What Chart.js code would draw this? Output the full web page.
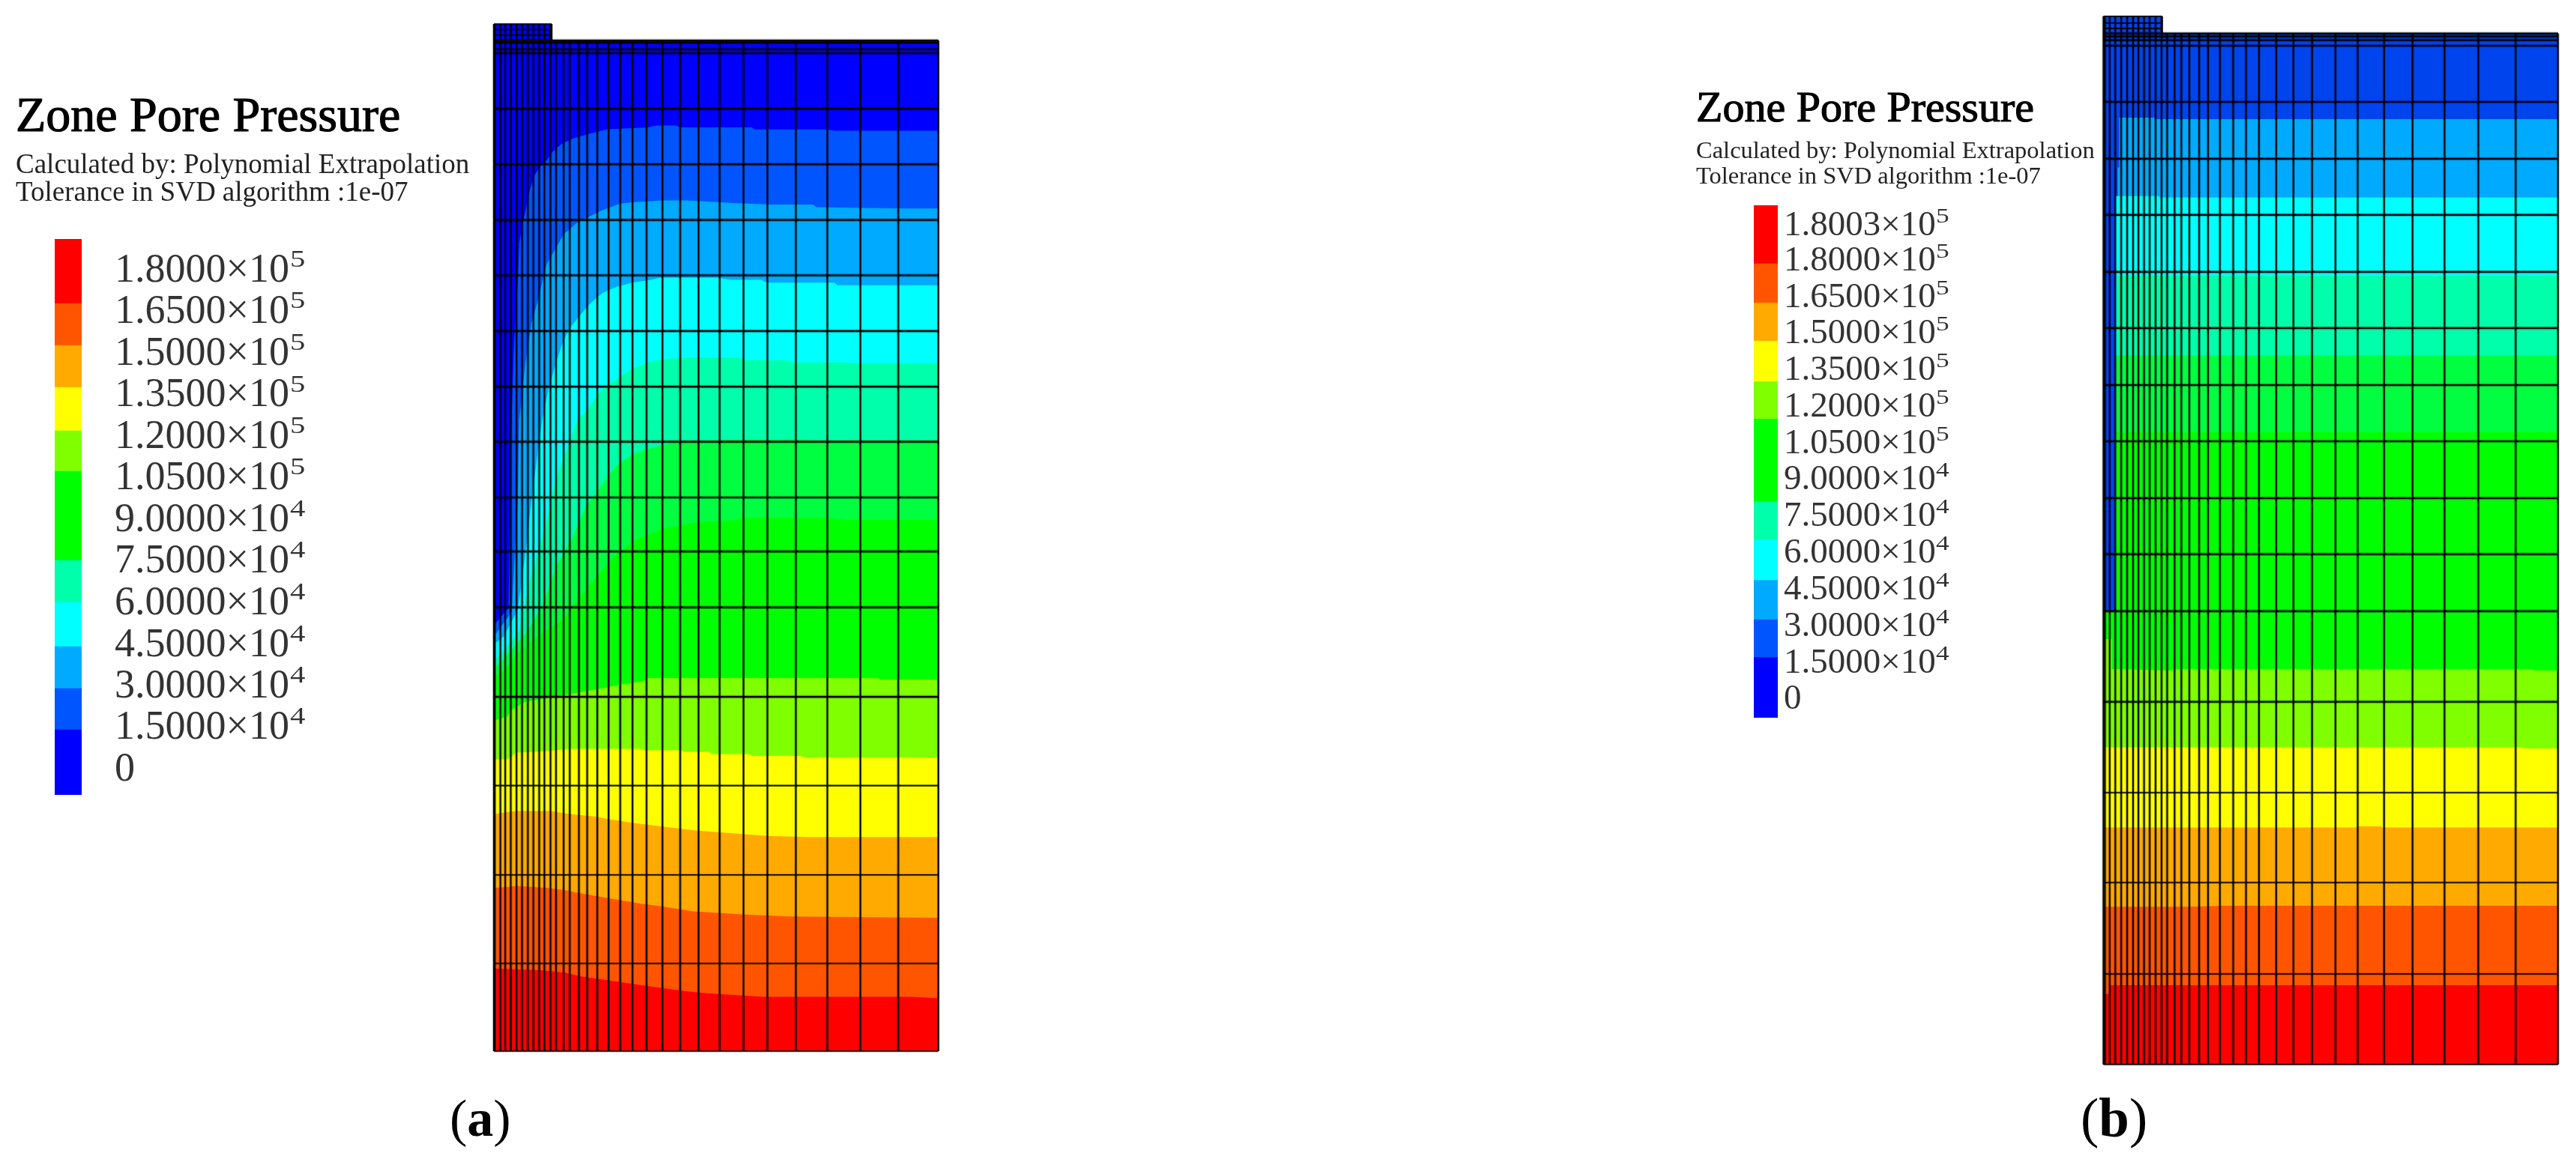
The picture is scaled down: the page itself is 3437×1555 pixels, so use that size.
<!DOCTYPE html>
<html>
<head>
<meta charset="utf-8">
<script src="https://cdn.jsdelivr.net/npm/chart.js@4"></script>
<style>
html,body{margin:0;padding:0;background:#fff;width:3437px;height:1555px;overflow:hidden}
canvas{position:absolute;display:block}
.t{position:absolute;white-space:nowrap;line-height:1;font-family:"Liberation Serif",serif;color:#222}
.t sup{font-size:.58em;line-height:0;vertical-align:baseline;position:relative;top:-.62em;display:inline-block;transform:scaleX(1.3);transform-origin:left center;margin-left:.02em}
</style>
</head>
<body>
<script>
// ---------- shared data ----------
const titleText = 'Zone Pore Pressure';
const subText1 = 'Calculated by: Polynomial Extrapolation';
const subText2 = 'Tolerance in SVD algorithm :1e-07';
const legendColors = ['#0000ff','#0055ff','#00aaff','#00ffff','#00ffaa','#00ff00','#7fff00','#ffff00','#ffaa00','#ff5500','#ff0000'];
const bandColorsA = ['#0000ff','#0055ff','#00aaff','#00ffff','#00ffaa','#00ff40','#00ff00','#7fff00','#ffff00','#ffaa00','#ff5500','#ff0000'];
const bandColorsB = ['#0044ee','#00aaff','#00ffff','#00ffaa','#00ff40','#00ff00','#7fff00','#ffff00','#ffaa00','#ff5500','#ff0000'];

// ---------- panel (a) ----------
const levelsA = [180000,165000,150000,135000,120000,105000,90000,75000,60000,45000,30000,15000,0];
const legendEdgesA = [0,11.73,19.14,26.68,34.64,42.18,58.22,65.5,73.32,80.86,88.41,100];
const meshXA = [0,0.2,1.45,2.55,3.79,5.09,6.33,7.64,8.88,10.19,11.36,12.73,13.97,15.69,17.07,19.13,20.99,23.26,25.81,28.42,31.18,34.34,37.92,41.91,46.04,50.79,56.16,61.53,67.93,75.02,82.45,90.98,100];
const meshYA = [0,8.67,17.44,26.27,35.06,43.91,49.44,54.78,60.3,65.75,71.24,76.76,82.24,87.75,93.25,98.74,99.13,99.78,100];
const notchYA = [100.53,101.07,101.63];
const topA = 101.63, notchRightA = 13;
const shapeA = [[0,101.63],[13,101.63],[13,100],[100,100]];
const A15k = [[0,42.1],[0.9,42.63],[3.3,43.82],[3.65,54.55],[3.99,62.49],[4.47,69.42],[5.37,76.04],[5.71,80],[6.74,82.4],[8.12,85.31],[9.15,86.63],[10.19,87.43],[11.56,87.96],[13.28,89.02],[15.35,89.81],[18.1,90.34],[22.23,90.87],[25.67,91.21],[34.62,91.4],[36.68,91.59],[40.81,91.59],[42.19,91.4],[58.02,91.4],[58.71,91.19],[74.54,91.19],[76.6,91.06],[100,91.06]];
const A30k = [[0,41.04],[1.58,41.97],[3.99,43.43],[5.37,54.55],[5.71,62.49],[7.09,68.1],[8.47,72.07],[10.19,74.72],[11.22,76.84],[11.91,77.9],[13.97,79.49],[15.69,80.81],[18.79,82],[21.2,82.53],[24.29,83.19],[28.42,83.85],[31.18,83.99],[38.06,84.17],[43.56,84.17],[53.89,83.91],[62.15,83.77],[71.78,83.77],[72.47,83.51],[91.05,83.38],[100,83.38]];
const A45k = [[0,40.25],[2.27,41.04],[5.37,43.69],[7.09,49.25],[8.47,54.55],[10.87,62.49],[12.25,65.45],[13.97,68.1],[15.35,69.95],[17.07,71.54],[19.48,72.87],[21.54,73.93],[24.29,74.98],[27.74,75.65],[31.18,76.04],[35.31,76.31],[37.37,76.52],[50.45,76.52],[53.2,76.31],[60.08,76.31],[61.46,76.04],[76.6,76.04],[77.29,75.78],[100,75.78]];
const A60k = [[0,38.66],[1.93,39.46],[5.71,41.57],[8.12,46.6],[11.56,51.9],[14.32,57.19],[16.72,59.84],[18.79,62.49],[20.85,63.34],[24.29,65.45],[27.74,66.51],[31.18,67.57],[35.31,68.23],[38.75,68.5],[44.94,68.63],[55.26,68.63],[56.64,68.37],[65.59,68.37],[66.96,68.15],[77.29,68.15],[82.79,68.05],[100,68.05]];
const A75k = [[0,37.87],[1.93,38.66],[7.09,41.31],[10.87,43.96],[13.97,47.93],[17.41,50.58],[20.85,54.02],[23.26,55.34],[25.67,56.93],[27.74,57.99],[31.18,59.05],[34.62,59.58],[38.06,59.97],[40.12,60.24],[53.89,60.5],[70.41,60.5],[71.09,60.42],[100,60.42]];
const A90k = [[0,37.07],[1.58,37.34],[5.02,39.19],[10.53,41.31],[15.35,42.63],[19.48,45.02],[22.92,46.87],[27.74,49.25],[31.87,50.58],[38.06,51.64],[44.94,52.3],[54.58,52.56],[55.95,52.75],[75.91,52.75],[79.35,52.56],[100,52.56]];
const A105k = [[0,32.7],[2.96,33.1],[4.34,33.9],[7.09,34.56],[17.41,35.35],[20.85,35.62],[25.67,36.01],[28.42,36.28],[31.18,36.41],[33.93,36.68],[34.62,36.91],[86.24,36.91],[86.92,36.76],[100,36.76]];
const A120k = [[0,28.87],[2.96,28.87],[5.02,29.53],[10.53,29.66],[17.41,29.92],[33.24,29.92],[33.93,29.77],[42.19,29.77],[42.88,29.61],[48.38,29.61],[49.07,29.39],[57.33,29.39],[58.02,29.21],[69.03,29.21],[69.72,29.05],[100,29.05]];
const A135k = [[0,23.45],[2.96,23.65],[5.02,23.75],[12.59,23.75],[17.41,23.45],[22.92,23.21],[25.67,22.96],[31.18,22.59],[38.06,22.22],[44.94,21.85],[55.95,21.48],[61.46,21.3],[71.09,21.18],[100,21.18]];
const A150k = [[0,16.16],[2.96,16.24],[5.02,16.34],[11.91,16.16],[16.04,15.92],[18.79,15.67],[22.92,15.35],[28.42,14.93],[32.55,14.63],[38.06,14.31],[44.94,13.82],[55.95,13.52],[66.28,13.32],[100,13.2]];
const A165k = [[0,8.18],[10.53,8.01],[16.04,7.76],[19.48,7.39],[24.29,7.1],[31.18,6.65],[35.31,6.4],[41.5,6.03],[46.32,5.79],[51.82,5.61],[60.77,5.37],[94.5,5.37],[100,5.22]];
const contoursA = [A15k,A30k,A45k,A60k,A75k,A90k,A105k,A120k,A135k,A150k,A165k];

// ---------- panel (b) ----------
const levelsB = [180030,180000,165000,150000,135000,120000,105000,90000,75000,60000,45000,30000,15000,0];
const legendEdgesB = [0,11.76,19.15,26.83,34.73,42.18,58.27,65.58,73.48,80.94,88.57,100];
const meshXB = [0,0.33,1.37,2.61,3.91,5.22,6.52,7.69,8.93,10.17,11.47,12.78,14.02,15.65,17.14,18.9,21.06,23.01,25.62,28.55,31.36,34.22,38,41.79,45.89,51.04,55.93,61.73,67.99,75.03,82.46,90.68,100];
const meshYB = [0,8.77,17.64,26.36,35.17,43.96,49.49,54.92,60.44,65.89,71.42,76.87,82.4,87.84,93.36,98.81,99.35,99.71,100];
const notchYB = [100.49,101.01,101.66];
const topB = 101.66, notchRightB = 12.91;
const shapeB = [[0,101.66],[12.91,101.66],[12.91,100],[100,100]];
const B30k = [[0,43.96],[2.61,43.96],[2.61,84.09],[3.13,84.09],[3.13,87],[3.46,87],[3.46,91.83],[11.28,91.83],[11.28,91.69],[100,91.69]];
const B45k = [[0,43.96],[2.61,43.96],[2.61,84.22],[12.26,84.22],[12.26,84.09],[100,84.09]];
const B60k = [[0,43.96],[2.61,43.96],[2.61,68.77],[3,68.77],[3,76.48],[100,76.48]];
const B75k = [[0,43.96],[2.61,43.96],[2.61,68.77],[100,68.77]];
const B90k = [[0,43.96],[2.61,43.96],[2.61,61.31],[100,61.31]];
const B105k = [[0,41.26],[1.83,41.26],[1.83,38.35],[14.9,38.2],[15.2,38.35],[94.4,38.35],[94.8,38.2],[100,38.2]];
const B120k = [[0,30.75],[92.1,30.75],[92.5,30.65],[100,30.65]];
const B135k = [[0,22.97],[55.93,22.97],[55.93,23.09],[61.15,23.09],[61.15,22.97],[100,22.97]];
const B150k = [[0,15.3],[19.1,15.3],[26.3,15.38],[100,15.38]];
const B165k = [[0,6.83],[1.2,6.83],[1.2,7.68],[100,7.68]];
const contoursB = [B30k,B45k,B60k,B75k,B90k,B105k,B120k,B135k,B150k,B165k];

// ---------- builders ----------
const toPts = a => a.map(p => ({x:p[0], y:p[1]}));
function lineDs(pts, color, width){
  return {data:pts, showLine:true, pointRadius:0, borderColor:color, borderWidth:width, fill:false, tension:0, clip:false, borderCapStyle:'butt', order:0};
}
function meshDatasets(meshX, meshY, notchY, top, notchRight){
  const out = [];
  const add = (pts, core, halo) => { out.push(lineDs(pts,'rgba(0,0,0,0.95)',core)); out.push(lineDs(pts,'rgba(0,0,0,0.3)',halo)); };
  meshX.forEach(x => add([{x,y:0},{x,y:x<=notchRight?top:100}],1.9,4));
  meshY.forEach(y => {
    const thick = y > 30;
    add([{x:0,y},{x:100,y}], thick?2.2:1.6, thick?4.5:3);
  });
  notchY.forEach(y => add([{x:0,y},{x:notchRight,y}],1.6,2.5));
  add([{x:notchRight,y:100},{x:notchRight,y:top}],1.9,3);
  return out;
}
function bandDatasets(shape, contours, colors){
  const polys = [shape].concat(contours);
  const out = polys.map((c,i) => ({data:toPts(c), showLine:true, pointRadius:0, borderWidth:0, borderColor:'rgba(0,0,0,0)', backgroundColor:colors[i], fill:'origin', tension:0}));
  return out.reverse();   // Chart.js paints the first dataset last, so the deepest band goes first
}
function panelChart(left, width, pad, top, mesh, bands){
  const c = document.createElement('canvas');
  c.width = width; c.height = 1555; c.style.left = left+'px'; c.style.top = '0px';
  document.body.appendChild(c);
  return new Chart(c, {type:'scatter', data:{datasets:mesh.concat(bands)}, options:{
    responsive:false, animation:false, events:[], layout:{padding:pad},
    plugins:{legend:{display:false}, title:{display:false}, tooltip:{enabled:false}},
    elements:{line:{tension:0}},
    scales:{
      x:{type:'linear',min:0,max:100,display:false},
      y:{type:'linear',min:0,max:top,display:false}
    }
  }});
}
function legendChart(left, top, width, height, edges){
  const c = document.createElement('canvas');
  c.width = width; c.height = height; c.style.left = left+'px'; c.style.top = top+'px';
  document.body.appendChild(c);
  const ds = legendColors.map((col,i) => ({data:[[edges[i],edges[i+1]]], backgroundColor:col, borderWidth:0, barPercentage:1, categoryPercentage:1}));
  return new Chart(c, {type:'bar', data:{labels:['Zone Pore Pressure'], datasets:ds}, options:{
    responsive:false, animation:false, events:[], layout:{padding:0},
    plugins:{legend:{display:false}, title:{display:false}, tooltip:{enabled:false}},
    scales:{x:{display:false,stacked:true},y:{display:false,min:0,max:100}}
  }});
}
function text(html, x, baseline, size, extra){
  const d = document.createElement('div');
  d.className = 't';
  d.innerHTML = html;
  d.style.left = x+'px';
  d.style.top = (baseline - 0.8375*size)+'px';
  d.style.fontSize = size+'px';
  if (extra) Object.assign(d.style, extra);
  document.body.appendChild(d);
}
function fmtLevel(v){
  if (v === 0) return '0';
  const e = Math.floor(Math.log10(v));
  return (v/Math.pow(10,e)).toFixed(4)+'×10<sup>'+e+'</sup>';
}

// ---------- draw ----------
panelChart(0,1720,{left:659,right:468,top:32,bottom:152},topA,
  meshDatasets(meshXA,meshYA,notchYA,topA,notchRightA),
  bandDatasets(shapeA,contoursA,bandColorsA));
panelChart(1720,1717,{left:1086.5,right:24,top:21.8,bottom:134.3},topB,
  meshDatasets(meshXB,meshYB,notchYB,topB,notchRightB),
  bandDatasets(shapeB,contoursB,bandColorsB));
legendChart(73,319,36,742,legendEdgesA);
legendChart(2340,274,32,684,legendEdgesB);

const titleStyle = {color:'#000',webkitTextStroke:'1.2px #000'};
text(titleText,21,175,66,titleStyle);
text(subText1,21,231,37);
text(subText2,21,267.5,37);
text(titleText,2263,163,58,titleStyle);
text(subText1,2263,211.7,32.5);
text(subText2,2263,245,32.5);
const baseA = [376,431,487,542.5,598,653,709,764,820,876,931,986,1042];
const baseB = [313.9,361.5,410,458.5,507,556,605,653.7,702.5,751,800,849,898,946.5];
levelsA.forEach((v,i)=>text(fmtLevel(v),153,baseA[i],54,{color:'#333'}));
levelsB.forEach((v,i)=>text(fmtLevel(v),2380,baseB[i],47,{color:'#333'}));
text('(<b>a</b>)',600,1517,70,{color:'#000'});
text('(<b>b</b>)',2776,1517,73,{color:'#000'});
</script>
</body>
</html>
